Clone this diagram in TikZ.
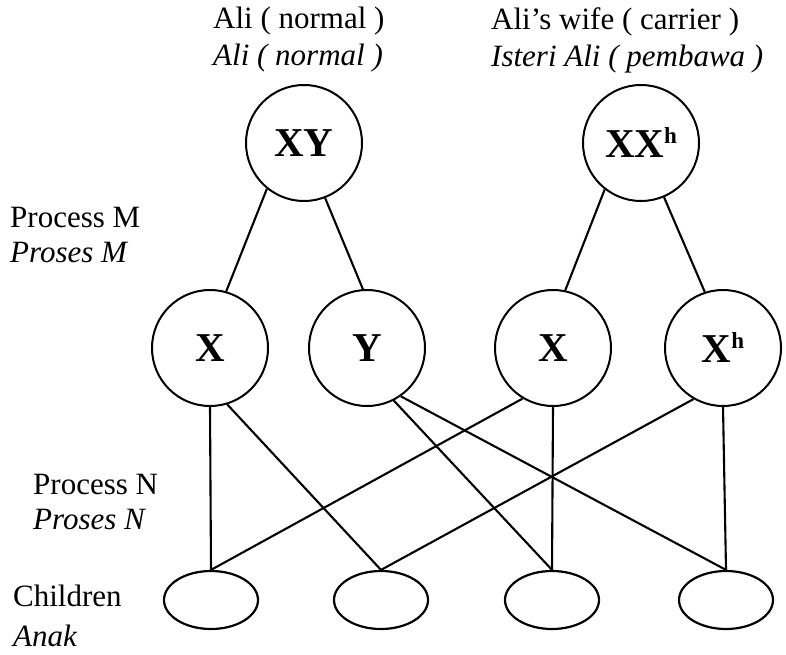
\documentclass[tikz,border=0pt]{standalone}
\usepackage{fontspec}
\setmainfont{Liberation Serif}
\usetikzlibrary{shapes.geometric}
\begin{document}
\begin{tikzpicture}[x=1pt,y=-1pt,
  gene/.style={circle,draw,line width=2pt,minimum size=116pt,inner sep=0pt,font=\fontsize{41}{41}\selectfont\bfseries},
  child/.style={ellipse,draw,line width=2.2pt,minimum width=94pt,minimum height=58pt,inner sep=0pt},
  link/.style={line width=2.1pt},
  lbl/.style={anchor=west,align=left,inner sep=0pt,font=\fontsize{31}{37}\selectfont}]
\useasboundingbox (0,0) rectangle (786,655);
\newcommand{\supH}{\raisebox{14pt}{\fontsize{23}{23}\selectfont h}}
% labels
\node[lbl] (ali) at (213,40) {Ali ( normal )\\\itshape Ali ( normal )};
\node[lbl] (wife) at (491,40) {Ali's wife ( carrier )\\\itshape Isteri Ali ( pembawa )};
\node[lbl,font=\fontsize{31}{35}\selectfont] (pm) at (10,235) {Process M\\\itshape Proses M};
\node[lbl,font=\fontsize{31}{35}\selectfont] (pn) at (33,502) {Process N\\\itshape Proses N};
\node[lbl,font=\fontsize{31}{40}\selectfont] (ch) at (13,616) {Children\\\itshape Anak};
% parents
\node[gene] (XY) at (304,143) {XY};
\node[gene] (XXh) at (641,143) {XX\supH};
% gametes
\node[gene] (X1) at (210,348) {X};
\node[gene] (Y1) at (367,348) {Y};
\node[gene] (X2) at (553,348) {X};
\node[gene] (Xh) at (723,348) {X\supH};
% children
\node[child] (E1) at (211,600) {};
\node[child] (E2) at (381,600) {};
\node[child] (E3) at (552,600) {};
\node[child] (E4) at (726,600) {};
% process M
\draw[link] (XY.231) -- (X1.74);
\draw[link] (XY.291) -- (Y1.94);
\draw[link] (XXh.232) -- (X2.78);
\draw[link] (XXh.293) -- (Xh.108);
% process N
\draw[link] (X1.south) -- (E1.north);
\draw[link] (X1.287) -- (E2.north);
\draw[link] (Y1.297) -- (E3.north);
\draw[link] (Y1.305) -- (E4.north);
\draw[link] (X2.239) -- (E1.north);
\draw[link] (X2.south) -- (E3.north);
\draw[link] (Xh.240) -- (E2.north);
\draw[link] (Xh.south) -- (E4.north);
\end{tikzpicture}
\end{document}
